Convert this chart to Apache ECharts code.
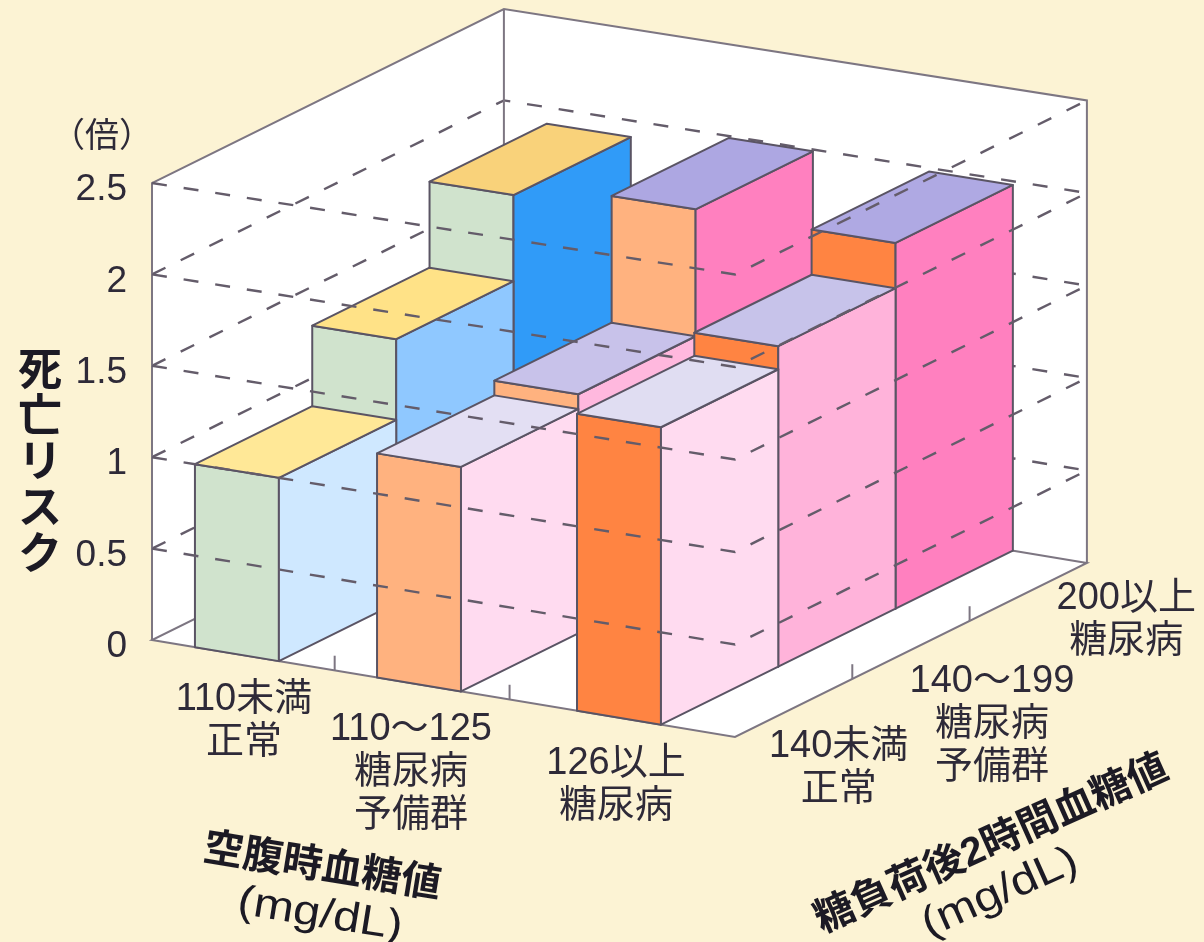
<!DOCTYPE html>
<html>
<head>
<meta charset="utf-8">
<title>死亡リスク</title>
<script src="https://cdn.jsdelivr.net/npm/echarts@6/dist/echarts.min.js"></script>
<style>
html, body { margin: 0; padding: 0; background: #fcf3d4; }
#chart { width: 1204px; height: 942px; }
</style>
</head>
<body>
<div id="chart"></div>
<script>
// data
var fasting_labels = ['110未満\n正常', '110～125\n糖尿病\n予備群', '126以上\n糖尿病'];
var load_labels = ['140未満\n正常', '140～199\n糖尿病\n予備群', '200以上\n糖尿病'];
var risk_load_140 = [1.0, 1.22, 1.61];
var risk_load_199 = [1.44, 1.30, 1.735];
var risk_load_200 = [1.91, 1.99, 1.98];
var y_ticks = [0, 0.5, 1, 1.5, 2, 2.5];

// layout of the oblique box
var grid_left = 152, grid_top = 183, grid_width = 583, grid_height = 457;
var floor_slope = 0.1664, slope_per_unit = 0.0038;
var depth_dx = 117.3, depth_dy = 58;
var bar_start = [0.221, 1.158, 2.187];
var bar_width = 0.432;
var floor_ticks = [0.94, 1.84];
var depth_ticks = [1, 2];
var fasting_label_offset = [[7, 24], [-8, 24], [-3, 24]];
var load_label_offset = [[45, 17], [81, 10], [98, -15]];

// colours
var front_colors = ['#d0e3cd', '#ffb27f', '#ff8442'];
var top_colors = [
	['#ffe897', '#e3dff3', '#e0ddf2'],
	['#ffe287', '#c8c2ea', '#c7c3ea'],
	['#f9d27a', '#ada7e2', '#afa9e3']
];
var side_colors = [
	['#cfe8ff', '#ffdbf0', '#ffdbf0'],
	['#8fc8ff', '#ffb8de', '#ffb3da'],
	['#309bf8', '#ff80bf', '#ff80bf']
];
var edge_color = '#5a5464';
var frame_color = '#7d7682';
var dash_color = '#645c6a';
var text_color = '#2e2a38';
var font_family = '"Liberation Sans", "Noto Sans CJK JP", sans-serif';

var risk_rows = [risk_load_140, risk_load_199, risk_load_200];

// far row first, and left to right, so nearer bars paint over
var bar_data = [];
for(var j = risk_rows.length - 1; j >= 0; j--){
	for(var i = 0; i < risk_rows[j].length; i++){
		bar_data.push([i, j, risk_rows[j][i]]);
	}
}

function to_screen(api, x, v, depth){
	var p = api.coord([x, v]);
	var slope = floor_slope - slope_per_unit * v;
	return [p[0] + depth * depth_dx, p[1] + (p[0] - grid_left) * slope - depth * depth_dy];
}

function line_el(points, color, dash){
	return {
		type: 'polyline',
		shape: { points: points },
		style: { stroke: color, lineWidth: dash ? 2.4 : 2, fill: null, lineDash: dash ? [15, 17] : null }
	};
}

function render_frame(params, api){
	var top = 2.5;
	var kids = [];
	kids.push({
		type: 'polygon',
		shape: { points: [
			to_screen(api, 0, 0, 0), to_screen(api, 3, 0, 0), to_screen(api, 3, 0, 3),
			to_screen(api, 3, top, 3), to_screen(api, 0, top, 3), to_screen(api, 0, top, 0)
		] },
		style: { fill: '#ffffff' }
	});
	// back walls: dashed rings, hidden by the bars
	for(var k = 1; k < y_ticks.length; k++){
		var v = y_ticks[k];
		if(v < top){
			kids.push(line_el([to_screen(api, 0, v, 0), to_screen(api, 0, v, 3), to_screen(api, 3, v, 3)], dash_color, true));
		}
	}
	kids.push(line_el([to_screen(api, 0, 0, 0), to_screen(api, 0, top, 0), to_screen(api, 0, top, 3), to_screen(api, 3, top, 3), to_screen(api, 3, 0, 3)], frame_color));
	kids.push(line_el([to_screen(api, 0, 0, 3), to_screen(api, 0, top, 3)], frame_color));
	kids.push(line_el([to_screen(api, 0, 0, 3), to_screen(api, 0, 0, 0), to_screen(api, 3, 0, 0), to_screen(api, 3, 0, 3), to_screen(api, 0, 0, 3)], frame_color));
	for(var a = 0; a < floor_ticks.length; a++){
		kids.push(line_el([to_screen(api, floor_ticks[a], 0, 0), to_screen(api, floor_ticks[a], 0.08, 0)], frame_color));
	}
	for(var b = 0; b < depth_ticks.length; b++){
		kids.push(line_el([to_screen(api, 3, 0, depth_ticks[b]), to_screen(api, 3, 0.08, depth_ticks[b])], frame_color));
	}
	return { type: 'group', children: kids };
}

function face(points, color){
	return {
		type: 'polygon',
		shape: { points: points },
		style: { fill: color, stroke: edge_color, lineWidth: 2, lineJoin: 'round' }
	};
}

function render_bar(params, api){
	var i = api.value(0), j = api.value(1), v = api.value(2);
	var x0 = bar_start[i], x1 = x0 + bar_width;
	return {
		type: 'group',
		children: [
			face([to_screen(api, x0, 0, j), to_screen(api, x1, 0, j), to_screen(api, x1, v, j), to_screen(api, x0, v, j)], front_colors[i]),
			face([to_screen(api, x1, 0, j), to_screen(api, x1, 0, j + 1), to_screen(api, x1, v, j + 1), to_screen(api, x1, v, j)], side_colors[j][i]),
			face([to_screen(api, x0, v, j), to_screen(api, x1, v, j), to_screen(api, x1, v, j + 1), to_screen(api, x0, v, j + 1)], top_colors[j][i])
		]
	};
}

// front and right dashed rings lie over the bars
function render_dash(params, api){
	var v = api.value(0);
	if(v == 0){
		return null;
	}
	return line_el([to_screen(api, 0, v, 0), to_screen(api, 3, v, 0), to_screen(api, 3, v, 3)], dash_color, true);
}

function label_el(text, pos){
	return {
		type: 'text',
		x: pos[0],
		y: pos[1],
		style: {
			text: text,
			fill: text_color,
			font: '38px ' + font_family,
			align: 'center',
			verticalAlign: 'top',
			lineHeight: 43
		}
	};
}

function render_labels(params, api){
	var kids = [];
	for(var i = 0; i < fasting_labels.length; i++){
		var a = to_screen(api, bar_start[i] + bar_width / 2, 0, 0);
		kids.push(label_el(fasting_labels[i], [a[0] + fasting_label_offset[i][0], a[1] + fasting_label_offset[i][1]]));
	}
	for(var j = 0; j < load_labels.length; j++){
		var b = to_screen(api, 3, 0, j + 0.5);
		kids.push(label_el(load_labels[j], [b[0] + load_label_offset[j][0], b[1] + load_label_offset[j][1]]));
	}
	return { type: 'group', children: kids };
}

var chart = echarts.init(document.getElementById('chart'));
var option = {
	backgroundColor: '#fcf3d4',
	animation: false,
	grid: { left: grid_left, top: grid_top, width: grid_width, height: grid_height },
	xAxis: { type: 'value', min: 0, max: 3, show: false },
	yAxis: {
		type: 'value',
		min: 0,
		max: 2.5,
		interval: 0.5,
		axisLine: { show: false },
		axisTick: { show: false },
		splitLine: { show: false },
		axisLabel: {
			margin: 25,
			verticalAlign: 'top',
			lineHeight: 14,
			color: text_color,
			fontSize: 37,
			fontFamily: font_family
		}
	},
	graphic: [
		{ type: 'text', x: 102, y: 138, style: { text: '（倍）', fill: text_color, font: '34px ' + font_family, align: 'center', verticalAlign: 'middle' } },
		{ type: 'text', x: 40, y: 465, style: { text: '死\n亡\nリ\nス\nク', fill: '#1c1a24', font: 'bold 44px ' + font_family, align: 'center', verticalAlign: 'middle', lineHeight: 46 } },
		{ type: 'text', x: 322, y: 868, rotation: -0.16, style: { text: '空腹時血糖値', fill: '#1c1a24', font: 'bold 40px ' + font_family, align: 'center', verticalAlign: 'middle' } },
		{ type: 'text', x: 320, y: 915, rotation: -0.16, scaleX: 1.15, style: { text: '(mg/dL)', fill: '#1c1a24', font: '42px ' + font_family, align: 'center', verticalAlign: 'middle' } },
		{ type: 'text', x: 992, y: 845, rotation: 0.42, style: { text: '糖負荷後2時間血糖値', fill: '#1c1a24', font: 'bold 40px ' + font_family, align: 'center', verticalAlign: 'middle' } },
		{ type: 'text', x: 1000, y: 893, rotation: 0.42, scaleX: 1.15, style: { text: '(mg/dL)', fill: '#1c1a24', font: '42px ' + font_family, align: 'center', verticalAlign: 'middle' } }
	],
	series: [
		{ type: 'custom', z: 1, silent: true, renderItem: render_frame, data: [[0, 0]], encode: { x: 0, y: 1 } },
		{ type: 'custom', z: 2, silent: true, renderItem: render_bar, data: bar_data, encode: { x: 0, y: 2 } },
		{ type: 'custom', z: 3, silent: true, renderItem: render_dash, data: y_ticks.map(function(v){ return [v]; }), encode: { y: 0 } },
		{ type: 'custom', z: 4, silent: true, renderItem: render_labels, data: [[0, 0]], encode: { x: 0, y: 1 } }
	]
};
chart.setOption(option);
</script>
</body>
</html>
